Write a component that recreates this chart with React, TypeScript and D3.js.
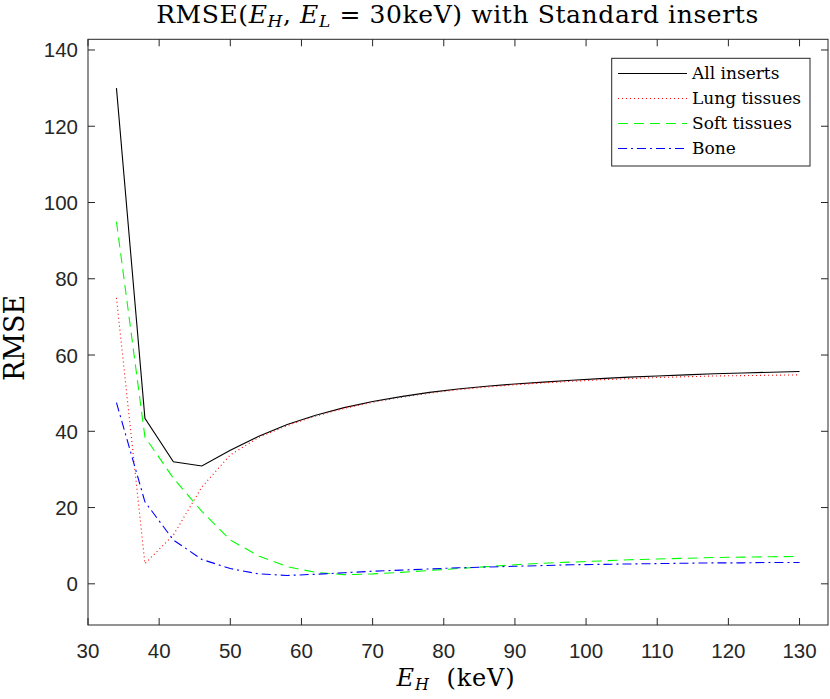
import React from "react";
import * as d3 from "d3";

const energies = [34, 38, 42, 46, 50, 54, 58, 62, 66, 70, 74, 78, 82, 86, 90, 94, 98, 102, 106, 110, 114, 118, 122, 126, 130];
const allInserts = [130, 43.4, 32.0, 30.9, 35.0, 38.7, 41.8, 44.2, 46.2, 47.8, 49.1, 50.2, 51.1, 51.8, 52.4, 52.9, 53.4, 53.8, 54.2, 54.5, 54.8, 55.1, 55.3, 55.5, 55.7];
const lungTissues = [75, 5.3, 12.8, 25.4, 33.8, 38.4, 41.5, 44.0, 46.0, 47.6, 48.9, 50.0, 50.9, 51.6, 52.2, 52.7, 53.1, 53.5, 53.8, 54.1, 54.3, 54.5, 54.6, 54.7, 54.8];
const softTissues = [95, 38.5, 27.7, 19.0, 11.5, 7.3, 4.5, 3.0, 2.4, 2.6, 3.0, 3.5, 4.0, 4.5, 5.0, 5.4, 5.7, 6.0, 6.3, 6.5, 6.7, 6.9, 7.0, 7.1, 7.2];
const bone = [47.5, 21.5, 11.5, 6.4, 4.0, 2.6, 2.2, 2.5, 2.9, 3.3, 3.6, 3.9, 4.2, 4.4, 4.6, 4.8, 5.0, 5.1, 5.2, 5.3, 5.4, 5.5, 5.5, 5.6, 5.6];

const xTicks = [30, 40, 50, 60, 70, 80, 90, 100, 110, 120, 130];
const yTicks = [0, 20, 40, 60, 80, 100, 120, 140];

const seriesNames = ["All inserts", "Lung tissues", "Soft tissues", "Bone"];
const seriesColors = ["#000000", "#ff0000", "#00ff00", "#0000ff"];
const seriesDash = ["none", "1,3", "10,6", "9,4,2,4"];
const seriesValues = [allInserts, lungTissues, softTissues, bone];

const W = 830;
const H = 699;
const L = 88, R = 828, T = 39.3, B = 625;

export default function App() {
  const x = d3.scaleLinear().domain([30, 134]).range([L, R]);
  const y = d3.scaleLinear().domain([-10.8, 142.8]).range([B, T]);
  const axisColor = "#262626";
  const tickLen = 7;
  const line = (vals: number[]) =>
    d3.line<number>().x((_, i) => x(energies[i])).y((v) => y(v))(vals) || "";

  const serif = "'DejaVu Serif', serif";
  const sans = "'Liberation Sans', Arial, Helvetica, sans-serif";

  const legX = 611.7, legY = 58.3, legW = 198.3, legH = 107.7;

  return (
    <svg width={W} height={H} style={{ position: "absolute", left: 0, top: 0 }}>
      <rect x={0} y={0} width={W} height={H} fill="#fff" />
      <defs>
        <clipPath id="plotclip">
          <rect x={L} y={T} width={R - L} height={B - T} />
        </clipPath>
      </defs>
      <g clipPath="url(#plotclip)">
        {seriesValues.map((vals, i) => (
          <path
            key={i}
            d={line(vals)}
            fill="none"
            stroke={seriesColors[i]}
            strokeWidth={1.1}
            strokeDasharray={seriesDash[i]}
          />
        ))}
      </g>
      <rect x={L} y={T} width={R - L} height={B - T} fill="none" stroke={axisColor} strokeWidth={1} />
      {xTicks.map((t) => (
        <g key={"x" + t}>
          <line x1={x(t)} x2={x(t)} y1={B} y2={B - tickLen} stroke={axisColor} />
          <line x1={x(t)} x2={x(t)} y1={T} y2={T + tickLen} stroke={axisColor} />
          <text x={x(t)} y={658} textAnchor="middle" fontFamily={sans} fontSize={20.5} fill={axisColor}>
            {t}
          </text>
        </g>
      ))}
      {yTicks.map((t) => (
        <g key={"y" + t}>
          <line x1={L} x2={L + tickLen} y1={y(t)} y2={y(t)} stroke={axisColor} />
          <line x1={R} x2={R - tickLen} y1={y(t)} y2={y(t)} stroke={axisColor} />
          <text x={78} y={y(t) + 7.5} textAnchor="end" fontFamily={sans} fontSize={20.5} fill={axisColor}>
            {t}
          </text>
        </g>
      ))}
      {/* title */}
      <text
        x={457.5}
        y={23}
        textAnchor="middle"
        fontFamily={serif}
        fontSize={25}
        letterSpacing={0.6}
        fill="#000"
      >
        <tspan>RMSE(</tspan>
        <tspan fontStyle="italic">E</tspan>
        <tspan fontStyle="italic" fontSize={17} dy={4}>H</tspan>
        <tspan dy={-4}>, </tspan>
        <tspan fontStyle="italic">E</tspan>
        <tspan fontStyle="italic" fontSize={17} dy={4}>L</tspan>
        <tspan dy={-4}>{"\u00a0=\u00a030keV) with Standard inserts"}</tspan>
      </text>
      {/* x label */}
      <text x={456} y={686} textAnchor="middle" fontFamily={serif} fontSize={24} letterSpacing={0.8} fill="#000">
        <tspan fontStyle="italic">E</tspan>
        <tspan fontStyle="italic" fontSize={16} dy={4}>H</tspan>
        <tspan dy={-4}>{"\u00a0\u00a0(keV)"}</tspan>
      </text>
      {/* y label */}
      <text
        transform={`translate(24, 338) rotate(-90)`}
        textAnchor="middle"
        fontFamily={serif}
        fontSize={27}
        fill="#000"
      >
        RMSE
      </text>
      {/* legend */}
      <rect x={legX} y={legY} width={legW} height={legH} fill="#fff" stroke={axisColor} strokeWidth={1} />
      {seriesNames.map((name, i) => {
        const ly = 73.5 + i * 25;
        return (
          <g key={name}>
            <line
              x1={618}
              x2={687}
              y1={ly}
              y2={ly}
              stroke={seriesColors[i]}
              strokeWidth={1.1}
              strokeDasharray={seriesDash[i]}
            />
            <text x={692} y={ly + 5.5} fontFamily={serif} fontSize={17} fill="#000">
              {name}
            </text>
          </g>
        );
      })}
    </svg>
  );
}
